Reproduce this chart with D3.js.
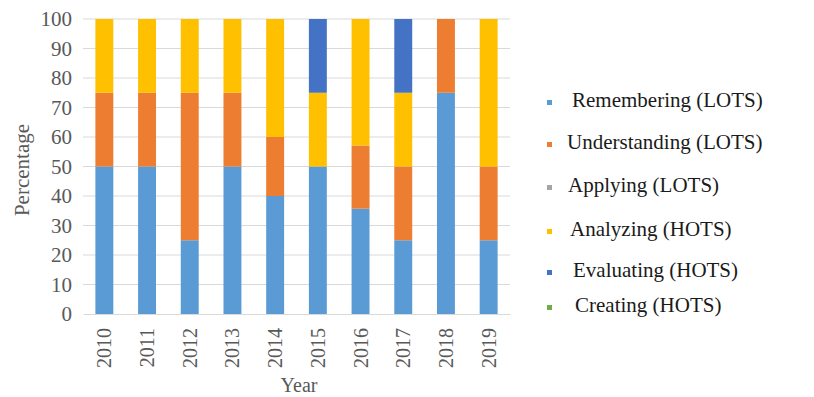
<!DOCTYPE html>
<html>
<head>
<meta charset="utf-8">
<script src="https://cdn.jsdelivr.net/npm/d3@7"></script>
<style>
  body { margin: 0; background: #fff; }
  svg { display: block; }
</style>
</head>
<body>
<svg id="chart" width="814" height="397"></svg>
<script>
const years = ["2010", "2011", "2012", "2013", "2014", "2015", "2016", "2017", "2018", "2019"];
const seriesNames = [
  "Remembering (LOTS)",
  "Understanding (LOTS)",
  "Applying (LOTS)",
  "Analyzing (HOTS)",
  "Evaluating (HOTS)",
  "Creating (HOTS)"
];
const remembering   = [50, 50, 25, 50, 40, 50, 35.7, 25, 75, 25];
const understanding = [25, 25, 50, 25, 20, 0, 21.4, 25, 25, 25];
const applying      = [0, 0, 0, 0, 0, 0, 0, 0, 0, 0];
const analyzing     = [25, 25, 25, 25, 40, 25, 42.9, 25, 0, 50];
const evaluating    = [0, 0, 0, 0, 0, 25, 0, 25, 0, 0];
const creating      = [0, 0, 0, 0, 0, 0, 0, 0, 0, 0];
const yTicks = [0, 10, 20, 30, 40, 50, 60, 70, 80, 90, 100];
const colors = ["#5B9BD5", "#ED7D31", "#A5A5A5", "#FFC000", "#4472C4", "#70AD47"];
const serif = "'Liberation Serif', 'Times New Roman', serif";

const seriesValues = [remembering, understanding, applying, analyzing, evaluating, creating];
const rows = years.map((y, i) => {
  const r = { year: y };
  seriesNames.forEach((s, j) => (r[s] = seriesValues[j][i]));
  return r;
});

const margin = { top: 19, right: 304, bottom: 83, left: 83 },
  width = 814 - margin.left - margin.right,
  height = 397 - margin.top - margin.bottom;

const svg = d3.select("#chart")
  .append("g")
  .attr("transform", `translate(${margin.left},${margin.top})`);

const x = d3.scaleBand().domain(years).range([0, width]).paddingInner(0.58).paddingOuter(0.29);
const y = d3.scaleLinear().domain([0, 100]).range([height, 0]);
const color = d3.scaleOrdinal().domain(seriesNames).range(colors);

// gridlines
svg.append("g")
  .selectAll("line")
  .data(yTicks.filter((d) => d > 0))
  .enter()
  .append("line")
  .attr("x1", 0)
  .attr("x2", width)
  .attr("y1", (d) => y(d))
  .attr("y2", (d) => y(d))
  .attr("stroke", "#d9d9d9")
  .attr("stroke-width", 1);

const stacked = d3.stack().keys(seriesNames)(rows);

svg.append("g")
  .selectAll("g")
  .data(stacked)
  .enter()
  .append("g")
  .attr("fill", (d) => color(d.key))
  .selectAll("rect")
  .data((d) => d)
  .enter()
  .append("rect")
  .attr("x", (d) => x(d.data.year))
  .attr("y", (d) => y(d[1]))
  .attr("width", x.bandwidth())
  .attr("height", (d) => y(d[0]) - y(d[1]));

// x axis
const xAxis = svg.append("g")
  .attr("transform", `translate(0,${height})`)
  .call(d3.axisBottom(x).tickSize(0).tickPadding(0));
xAxis.select(".domain").attr("stroke", "#d9d9d9");
xAxis.selectAll("text")
  .attr("transform", "rotate(-90)")
  .attr("text-anchor", "end")
  .attr("x", -14)
  .attr("y", 0)
  .attr("dy", "0.35em")
  .attr("fill", "#595959")
  .style("font-family", serif)
  .style("font-size", "20px");

// y axis
const yAxis = svg.append("g")
  .call(d3.axisLeft(y).tickValues(yTicks).tickSize(0).tickPadding(11));
yAxis.select(".domain").remove();
yAxis.selectAll("text")
  .attr("fill", "#595959")
  .style("font-family", serif)
  .style("font-size", "21px");

svg.append("text")
  .attr("transform", `translate(${22 - margin.left},${170 - margin.top}) rotate(-90)`)
  .attr("text-anchor", "middle")
  .attr("dy", "0.35em")
  .attr("fill", "#595959")
  .style("font-family", serif)
  .style("font-size", "21px")
  .text("Percentage");

svg.append("text")
  .attr("x", 299 - margin.left)
  .attr("y", 385 - margin.top)
  .attr("text-anchor", "middle")
  .attr("dy", "0.35em")
  .attr("fill", "#595959")
  .style("font-family", serif)
  .style("font-size", "20px")
  .text("Year");

// legend
const legendY = [100, 142, 185, 229, 270, 305];
const legendTextX = [572, 567, 568, 570, 573, 575];
const legend = d3.select("#chart").append("g");
seriesNames.forEach((s, i) => {
  legend.append("rect")
    .attr("x", 547)
    .attr("y", legendY[i])
    .attr("width", 5)
    .attr("height", 5)
    .attr("fill", color(s));
  legend.append("text")
    .attr("x", legendTextX[i])
    .attr("y", legendY[i])
    .attr("dy", "0.35em")
    .attr("fill", "#1a1a1a")
    .style("font-family", serif)
    .style("font-size", "21px")
    .text(s);
});
</script>
</body>
</html>
